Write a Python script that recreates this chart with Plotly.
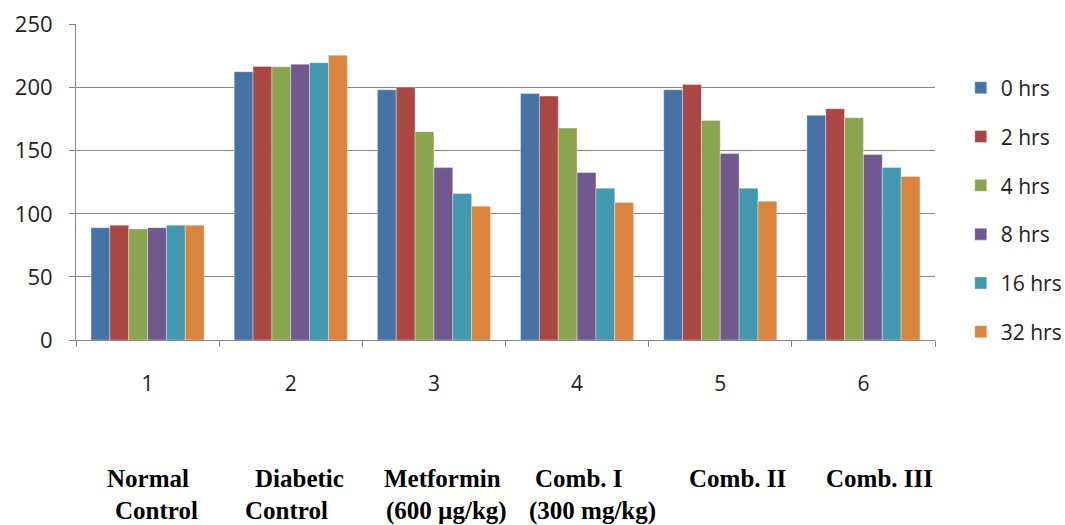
import plotly.graph_objects as go

categories = ["1", "2", "3", "4", "5", "6"]
group_labels_line1 = ["Normal", "Diabetic", "Metformin", "Comb. I", "Comb. II", "Comb. III"]
group_labels_line2 = ["Control", "Control", "(600 µg/kg)", "(300 mg/kg)", "", ""]
series_names = ["0 hrs", "2 hrs", "4 hrs", "8 hrs", "16 hrs", "32 hrs"]

hrs_0 = [89, 212.6, 198.3, 195.4, 198.3, 178]
hrs_2 = [91, 216.8, 200.4, 193.3, 202.5, 183.3]
hrs_4 = [88, 216.5, 165, 168, 174, 176.2]
hrs_8 = [89, 218.6, 136.6, 132.7, 147.7, 146.9]
hrs_16 = [91, 219.7, 116, 120.3, 120.3, 136.6]
hrs_32 = [91, 225.7, 106, 108.9, 110, 129.5]

series_values = [hrs_0, hrs_2, hrs_4, hrs_8, hrs_16, hrs_32]
colors = ["#4572A7", "#AA4643", "#89A54E", "#71588F", "#4198AF", "#DB843D"]

# label horizontal offsets (in category units) relative to category centre
offs1 = [0.0, 0.06, 0.06, 0.01, 0.12, 0.11]
offs2 = [0.06, -0.03, 0.09, 0.11, 0, 0]

fig = go.Figure()
for name, vals, col in zip(series_names, series_values, colors):
    fig.add_trace(go.Bar(
        x=categories, y=vals, name=name, legendgroup=name,
        marker=dict(color=col, line=dict(color="rgba(255,255,255,0.6)", width=0.6)),
    ))

lab_font = dict(family="Liberation Serif", size=25, color="black")
for i, (a, b) in enumerate(zip(group_labels_line1, group_labels_line2)):
    fig.add_annotation(x=i + offs1[i], y=-0.437, xref="x", yref="paper", text=f"<b>{a}</b>",
                       showarrow=False, font=lab_font, xanchor="center", yanchor="middle")
    if b:
        fig.add_annotation(x=i + offs2[i], y=-0.541, xref="x", yref="paper", text=f"<b>{b}</b>",
                           showarrow=False, font=lab_font, xanchor="center", yanchor="middle")

fig.update_layout(
    width=1065, height=525,
    margin=dict(l=76, r=130, t=24, b=185, autoexpand=False),
    paper_bgcolor="white", plot_bgcolor="white",
    barmode="group", bargap=0.21, bargroupgap=0,
    font=dict(family="Open Sans", size=22, color="#222222"),
    legend=dict(x=1.030, y=0.862, xanchor="left", yanchor="top",
                font=dict(family="Open Sans", size=21, color="#222222"),
                tracegroupgap=18.5, itemclick=False),
    xaxis=dict(type="category", showline=True, linecolor="#868686", linewidth=1,
               ticks="outside", tickson="boundaries", ticklen=6, tickcolor="#868686",
               ticklabelstandoff=25, showgrid=False, automargin=False,
               tickfont=dict(family="Open Sans", size=21, color="#222222")),
    yaxis=dict(range=[0, 250.4], tickvals=[0, 50, 100, 150, 200, 250], showline=True,
               linecolor="#868686", linewidth=1, automargin=False,
               ticks="outside", ticklen=6, tickcolor="#868686",
               showgrid=True, gridcolor="#868686", gridwidth=1, zeroline=False,
               ticklabelstandoff=12),
    showlegend=True,
)

fig.write_html("out.html", config={"displayModeBar": False},
               post_script="document.body.style.margin='0';document.body.style.overflow='hidden';")
